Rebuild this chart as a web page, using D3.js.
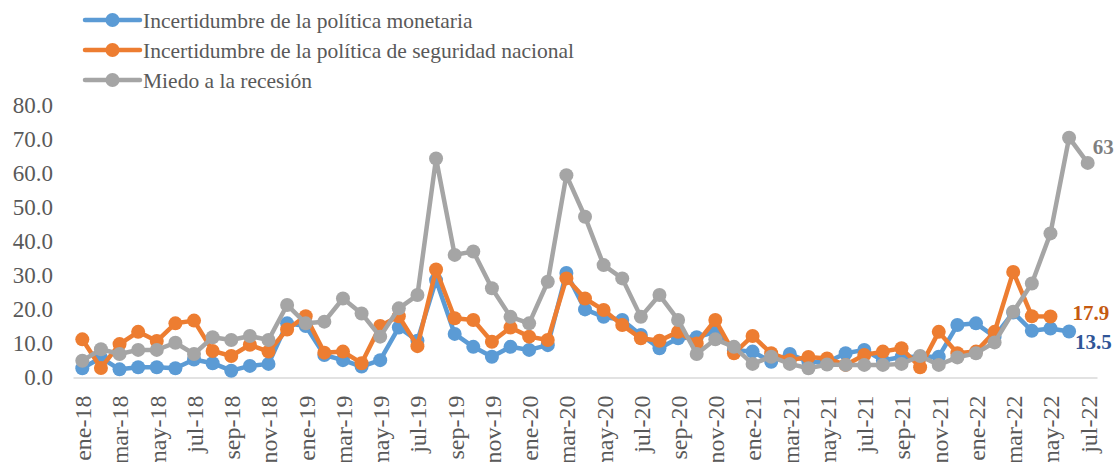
<!DOCTYPE html>
<html>
<head>
<meta charset="utf-8">
<script src="https://cdn.jsdelivr.net/npm/d3@7"></script>
<style>
  body { margin: 0; background: #fff; }
  svg { display: block; font-family: "Liberation Serif", "Times New Roman", serif; }
</style>
</head>
<body>
<svg width="1119" height="462"></svg>
<script>
const mesNames = ['ene', 'feb', 'mar', 'abr', 'may', 'jun', 'jul', 'ago', 'sep', 'oct', 'nov', 'dic'];
const months = [];
for (let y = 18; y <= 22; y++) {
  mesNames.forEach((m, i) => { if (y < 22 || i < 7) months.push(`${m}-${y}`); });
}

const monetaria = [2.7, 5.8, 2.4, 3.0, 3.0, 2.7, 5.3, 4.2, 2.0, 3.4, 4.0, 15.9,
  15.1, 6.6, 5.1, 3.2, 5.1, 14.7, 10.8, 28.6, 12.8, 9.0, 6.1, 9.0,
  8.1, 9.5, 30.7, 20.0, 17.8, 16.9, 12.5, 8.6, 11.5, 11.8, 13.4, 8.0,
  7.6, 4.6, 6.9, 4.6, 4.5, 7.1, 8.1, 5.0, 6.0, 6.1, 6.1, 15.4,
  15.9, 12.0, 19.1, 13.7, 14.4, 13.5, null];

const seguridad = [11.2, 2.8, 9.8, 13.4, 10.7, 15.9, 16.7, 7.8, 6.3, 9.6, 7.6, 14.1,
  18.0, 7.3, 7.6, 4.2, 15.1, 18.0, 9.2, 31.7, 17.4, 16.9, 10.5, 14.7,
  12.0, 11.0, 29.1, 23.2, 19.8, 15.4, 11.5, 10.8, 13.4, 10.0, 16.9, 7.1,
  12.2, 7.1, 5.1, 6.0, 5.6, 3.7, 6.6, 7.6, 8.6, 3.0, 13.4, 7.1,
  7.6, 13.4, 31.0, 18.0, 17.9, null, null];

const recesion = [4.9, 8.3, 6.9, 8.1, 8.1, 10.2, 6.9, 11.8, 11.0, 12.2, 11.0, 21.3,
  15.9, 16.4, 23.2, 18.8, 12.0, 20.3, 24.2, 64.3, 36.0, 37.0, 26.2, 17.8,
  15.9, 28.1, 59.4, 47.2, 33.0, 29.1, 17.8, 24.2, 16.9, 6.9, 11.2, 9.0,
  4.0, 6.1, 4.0, 2.7, 3.8, 3.7, 3.7, 3.7, 4.0, 6.3, 3.7, 5.9,
  7.1, 10.3, 19.3, 27.6, 42.3, 70.4, 63.0];

const seriesNames = [
  'Incertidumbre de la política monetaria',
  'Incertidumbre de la política de seguridad nacional',
  'Miedo a la recesión'
];
const yTicks = [0, 10, 20, 30, 40, 50, 60, 70, 80];

const colors = ['#5b9bd5', '#ed7d31', '#a5a5a5'];
const labelColors = ['#2f5597', '#c55a11', '#7f7f7f'];
const series = [monetaria, seguridad, recesion];

const svg = d3.select('svg');

const x = d3.scalePoint()
  .domain(months)
  .range([73, 1097])
  .padding(0.5);

const y = d3.scaleLinear()
  .domain([0, 80])
  .range([377.5, 105]);

// y axis labels only
const yAxis = svg.append('g')
  .attr('transform', 'translate(53,0)')
  .call(d3.axisLeft(y).tickValues(yTicks).tickFormat(d3.format('.1f')).tickSize(0));
yAxis.select('.domain').remove();
yAxis.selectAll('text')
  .attr('x', 0)
  .style('font-family', '"Liberation Serif", serif')
  .style('font-size', '23px')
  .attr('fill', '#595959');

// x axis
const xAxis = svg.append('g')
  .attr('transform', `translate(0,${y(0)})`)
  .call(d3.axisBottom(x)
    .tickValues(months.filter((d, i) => i % 2 === 0))
    .tickSize(0)
    .tickSizeOuter(0));
xAxis.select('.domain')
  .attr('stroke', '#d9d9d9')
  .attr('stroke-width', 1.5);
xAxis.selectAll('text')
  .style('font-family', '"Liberation Serif", serif')
  .style('font-size', '24px')
  .attr('fill', '#595959')
  .attr('text-anchor', 'end')
  .attr('dy', '0.35em')
  .attr('y', 0)
  .attr('transform', 'translate(0,18) rotate(-90)');

// lines + markers
const line = d3.line()
  .defined(d => d != null)
  .x((d, i) => x(months[i]))
  .y(d => y(d));

series.forEach((vals, s) => {
  const g = svg.append('g');
  g.append('path')
    .attr('d', line(vals))
    .attr('fill', 'none')
    .attr('stroke', colors[s])
    .attr('stroke-width', 4.5)
    .attr('stroke-linejoin', 'round');
  g.selectAll('circle')
    .data(vals.map((v, i) => ({ v, m: months[i] })).filter(d => d.v != null))
    .join('circle')
      .attr('cx', d => x(d.m))
      .attr('cy', d => y(d.v))
      .attr('r', 7)
      .attr('fill', colors[s]);
});

// end labels
const endLabels = [
  { s: 0, i: 53, text: '13.5', dx: 6, dy: 10 },
  { s: 1, i: 52, text: '17.9', dx: 22, dy: -4 },
  { s: 2, i: 54, text: '63', dx: 5, dy: -16 }
];
svg.append('g')
  .selectAll('text')
  .data(endLabels)
  .join('text')
    .attr('x', d => x(months[d.i]) + d.dx)
    .attr('y', d => y(series[d.s][d.i]) + d.dy)
    .attr('dy', '0.35em')
    .attr('fill', d => labelColors[d.s])
    .style('font-size', '21px')
    .style('font-weight', 'bold')
    .text(d => d.text);

// legend
const legend = svg.append('g')
  .selectAll('g')
  .data(seriesNames)
  .join('g')
    .attr('transform', (d, i) => `translate(85,${20 + i * 30})`);
legend.append('line')
  .attr('x1', 0).attr('x2', 55)
  .attr('stroke', (d, i) => colors[i])
  .attr('stroke-width', 4.5)
  .attr('stroke-linecap', 'round');
legend.append('circle')
  .attr('cx', 27.5)
  .attr('r', 7)
  .attr('fill', (d, i) => colors[i]);
legend.append('text')
  .attr('x', 58)
  .attr('dy', '0.35em')
  .attr('fill', '#595959')
  .style('font-size', '21.5px')
  .text(d => d);
</script>
</body>
</html>
